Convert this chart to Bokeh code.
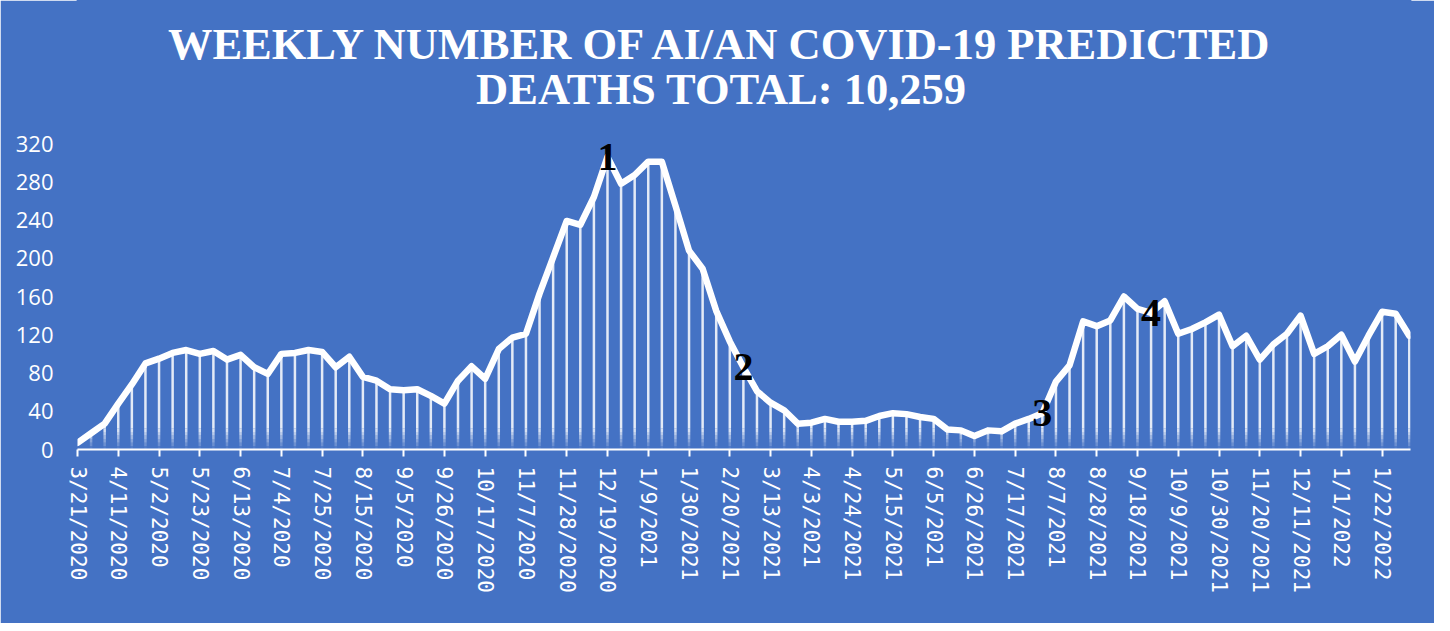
import numpy as np
from bokeh.plotting import figure
from bokeh.models import Range1d, FixedTicker, ColumnDataSource
from bokeh.core.properties import value
from bokeh.embed import file_html
from bokeh.resources import INLINE

BG = "#4472C4"

title_lines = ["WEEKLY NUMBER OF AI/AN COVID-19 PREDICTED", "DEATHS TOTAL: 10,259"]

# weekly predicted deaths, one value per week starting 3/21/2020
deaths = [7, 17, 27, 48, 68, 90, 95, 101, 104, 100,
          103, 94, 99, 86, 79, 100, 101, 104, 102, 86,
          97, 76, 72, 63, 62, 63, 56, 48, 72, 87,
          74, 105, 117, 121, 163, 201, 239, 235, 264, 306,
          278, 287, 301, 301, 255, 208, 189, 145, 113, 86,
          61, 49, 41, 27, 28, 32, 29, 29, 30, 35,
          38, 37, 34, 32, 21, 20, 14, 20, 19, 27,
          32, 38, 71, 88, 134, 129, 135, 160, 147, 143,
          155, 121, 126, 133, 141, 108, 119, 94, 110, 121,
          140, 100, 108, 120, 92, 119, 144, 142, 119]

# category labels shown on the axis (every third week)
tick_labels = ["3/21/2020", "4/11/2020", "5/2/2020", "5/23/2020", "6/13/2020",
               "7/4/2020", "7/25/2020", "8/15/2020", "9/5/2020", "9/26/2020",
               "10/17/2020", "11/7/2020", "11/28/2020", "12/19/2020", "1/9/2021",
               "1/30/2021", "2/20/2021", "3/13/2021", "4/3/2021", "4/24/2021",
               "5/15/2021", "6/5/2021", "6/26/2021", "7/17/2021", "8/7/2021",
               "8/28/2021", "9/18/2021", "10/9/2021", "10/30/2021", "11/20/2021",
               "12/11/2021", "1/1/2022", "1/22/2022"]
label_step = 3

# numbered call-outs placed on specific weeks
callout_text = ["1", "2", "3", "4"]
callout_week = [39, 49, 71, 79]

y_ticks = [0, 40, 80, 120, 160, 200, 240, 280, 320]

n = len(deaths)
idx = np.arange(n)
vals = np.array(deaths, dtype=float)

# layout (pixels inside the figure)
W, H = 1434, 623
left_px, right_px, bottom_px = 77, 24, 174
plot_top_px = 143                      # where the 320 gridline sits
frame_h = H - bottom_px                # frame spans from the top of the figure
px_per_unit = (frame_h - plot_top_px) / y_ticks[-1]
y_top = frame_h / px_per_unit          # headroom above 320 holds the heading
x_end = n - 1 + 0.09
px_per_week = (W - left_px - right_px) / x_end

p = figure(width=W, height=H, output_backend="svg", toolbar_location=None,
           x_range=Range1d(0, x_end), y_range=Range1d(0, y_top),
           background_fill_color=BG, border_fill_color=BG,
           outline_line_color=BG, outline_line_width=2,
           min_border_left=left_px, min_border_right=right_px,
           min_border_bottom=bottom_px, min_border_top=0)

p.xgrid.visible = False
p.ygrid.visible = False

# drop lines from each point down to the axis, fading near the bottom
fade_h = 22.0
steps = 6
seg_src = ColumnDataSource(dict(x=idx[1:], y0=np.minimum(vals[1:], fade_h), y1=vals[1:]))
p.segment(x0="x", y0="y0", x1="x", y1="y1", source=seg_src,
          line_color="white", line_alpha=0.85, line_width=2.5)
for k in range(steps):
    lo = fade_h * k / steps
    hi = fade_h * (k + 1) / steps
    a = 0.85 * (k + 0.5) / steps
    src = ColumnDataSource(dict(x=idx[1:], y0=np.minimum(vals[1:], lo), y1=np.minimum(vals[1:], hi)))
    p.segment(x0="x", y0="y0", x1="x", y1="y1", source=src,
              line_color="white", line_alpha=a, line_width=2.5)

p.line(idx, vals, line_color="white", line_width=6.5, line_join="round", line_cap="round")

cw = np.array(callout_week)
p.text(x=cw, y=vals[cw], text=callout_text, text_color="black",
       text_font=value("Liberation Serif"), text_font_style="bold", text_font_size="40px",
       text_align="center", text_baseline="middle")

# heading: two centred lines
title_center_px = 721
title_baselines_px = [43, 88]
tx = [(title_center_px - left_px) / px_per_week] * len(title_lines)
ty = [(frame_h - b) / px_per_unit for b in title_baselines_px]
p.text(x=tx, y=ty, text=title_lines, text_color="white",
       text_font=value("Liberation Serif"), text_font_style="bold", text_font_size="44.5px",
       text_align="center", text_baseline="alphabetic")

# x axis
xa = p.xaxis[0]
tick_pos = list(range(0, n, label_step))[:len(tick_labels)]
xa.ticker = FixedTicker(ticks=tick_pos)
xa.major_label_overrides = {t: lab for t, lab in zip(tick_pos, tick_labels)}
xa.major_label_orientation = "vertical"
xa.major_label_text_color = "white"
xa.major_label_text_font = "DejaVu Sans Mono"
xa.major_label_text_font_size = "21px"
xa.major_label_standoff = 10
xa.axis_line_color = "white"
xa.axis_line_width = 2
xa.major_tick_line_color = "white"
xa.major_tick_line_width = 2
xa.major_tick_out = 7
xa.major_tick_in = 0
xa.minor_tick_line_color = None

# y axis
ya = p.yaxis[0]
ya.ticker = FixedTicker(ticks=y_ticks)
ya.axis_line_color = None
ya.major_tick_line_color = None
ya.minor_tick_line_color = None
ya.major_label_text_color = "white"
ya.major_label_text_font = "Open Sans"
ya.major_label_text_font_size = "22px"
ya.major_label_standoff = 18

open("out.html", "w").write(file_html(p, INLINE))
